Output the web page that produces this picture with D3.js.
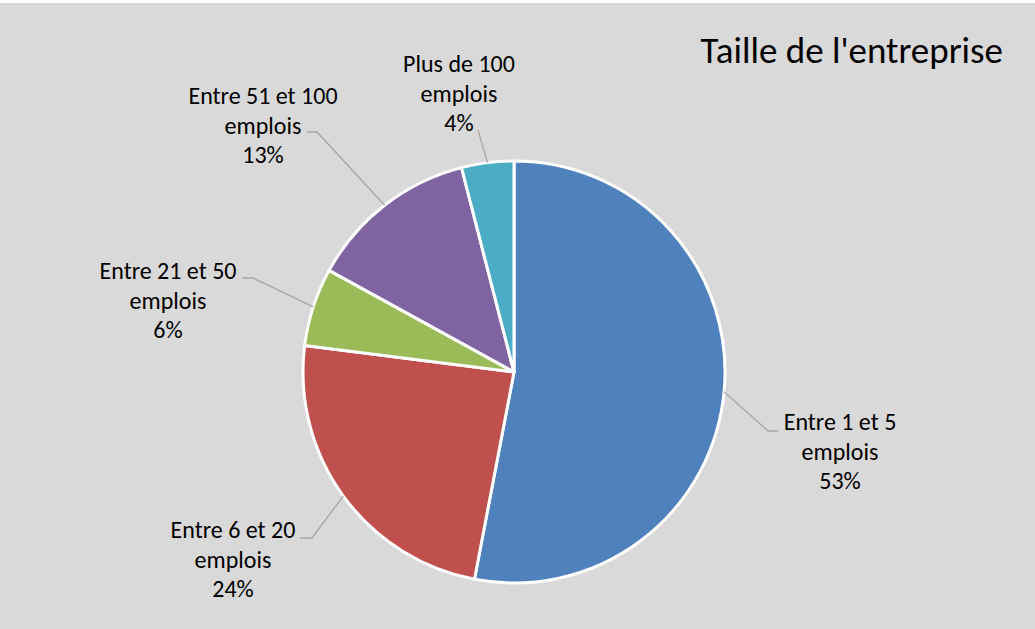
<!DOCTYPE html>
<html>
<head>
<meta charset="utf-8">
<script src="https://cdn.jsdelivr.net/npm/d3@7"></script>
<style>
  html, body { margin: 0; padding: 0; background: #fff; }
  svg { display: block; }
</style>
</head>
<body>
<script>
// Taille de l'entreprise - pie chart
const categories = ['Entre 1 et 5 emplois', 'Entre 6 et 20 emplois', 'Entre 21 et 50 emplois',
    'Entre 51 et 100 emplois', 'Plus de 100 emplois'];
const values = [53, 24, 6, 13, 4];
const colors = ['#4f81bd', '#c0504d', '#9bbb59', '#8064a2', '#4bacc6'];

// label layout: text centre x, first baseline y, leader elbow and end
const labelLayout = [
    {x: 840, y: 430, elbow: [768, 431], end: [778, 431]},
    {x: 233, y: 538, elbow: [312, 538], end: [300, 538]},
    {x: 168, y: 279, elbow: [253, 278], end: [242, 278]},
    {x: 263, y: 104, elbow: [317, 132], end: [307, 132]},
    {x: 459, y: 72, elbow: [478, 130], end: [478, 130]}
];

const width = 1035, height = 629;
const cx = 514, cy = 372, radius = 211;
const font = "Carlito, Calibri, Lato, 'Liberation Sans', sans-serif";

const svg = d3.select('body').append('svg')
    .attr('width', width)
    .attr('height', height);

svg.append('rect')
    .attr('x', 0).attr('y', 3)
    .attr('width', width).attr('height', height - 3)
    .attr('fill', '#d9d9d9');

const pie = d3.pie().sort(null).value(d => d)
    .startAngle(0).endAngle(2 * Math.PI);
const arc = d3.arc().innerRadius(0).outerRadius(radius);
const arcs = pie(values);

const g = svg.append('g').attr('transform', `translate(${cx},${cy})`);

g.selectAll('path')
    .data(arcs)
    .join('path')
    .attr('d', arc)
    .attr('fill', (d, i) => colors[i])
    .attr('stroke', '#fff')
    .attr('stroke-width', 3)
    .attr('stroke-linejoin', 'round');

// leader lines
let leader = d3.line();
svg.append('g')
    .selectAll('path')
    .data(arcs)
    .join('path')
    .attr('d', (d, i) => {
        const a = (d.startAngle + d.endAngle) / 2;
        const p = [cx + radius * Math.sin(a), cy - radius * Math.cos(a)];
        const l = labelLayout[i];
        return leader([p, l.elbow, l.end]);
    })
    .attr('fill', 'none')
    .attr('stroke', '#a6a6a6')
    .attr('stroke-width', 1.3);

// labels
const fmt = d3.format('.0%');
const total = d3.sum(values);
const label = svg.append('g')
    .style('font-family', font)
    .style('font-size', '24px')
    .attr('fill', '#000')
    .attr('text-anchor', 'middle')
    .selectAll('text')
    .data(arcs)
    .join('text')
    .attr('x', (d, i) => labelLayout[i].x)
    .attr('y', (d, i) => labelLayout[i].y);

label.each(function (d, i) {
    const name = categories[i];
    const k = name.lastIndexOf(' emplois');
    const lines = [name.slice(0, k), 'emplois', fmt(d.data / total)];
    d3.select(this).selectAll('tspan')
        .data(lines)
        .join('tspan')
        .attr('x', labelLayout[i].x)
        .attr('dy', (t, j) => j === 0 ? 0 : 29.5)
        .text(t => t);
});

svg.append('text')
    .attr('x', 1003)
    .attr('y', 63)
    .attr('text-anchor', 'end')
    .style('font-family', font)
    .style('font-size', '37px')
    .attr('fill', '#000')
    .text("Taille de l'entreprise");
</script>
</body>
</html>
